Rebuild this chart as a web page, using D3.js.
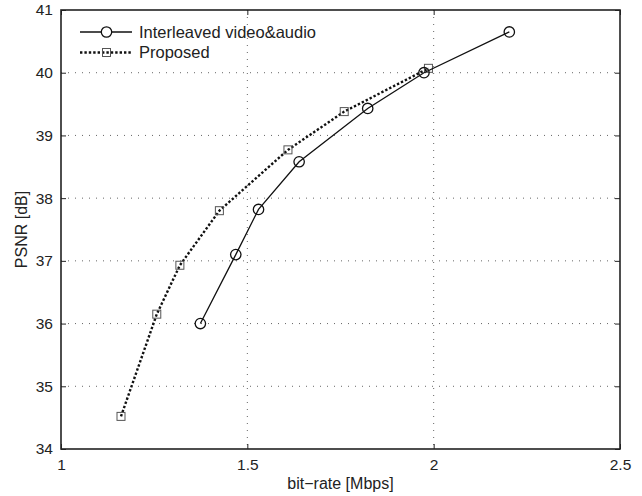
<!DOCTYPE html>
<html><head><meta charset="utf-8">
<script src="https://cdn.jsdelivr.net/npm/d3@7"></script>
<style>body{margin:0;background:#fff}text{font-family:"Liberation Sans",Arial,sans-serif;fill:#222}</style>
</head><body><svg id="c" width="642" height="496"></svg>
<script>
const interleavedX = [1.374, 1.469, 1.530, 1.639, 1.823, 1.974, 2.203];
const interleavedY = [36.00, 37.10, 37.82, 38.58, 39.43, 40.00, 40.65];
const proposedX = [1.161, 1.257, 1.319, 1.425, 1.609, 1.760, 1.986];
const proposedY = [34.52, 36.15, 36.93, 37.80, 38.77, 39.38, 40.07];
const xTicks = [1, 1.5, 2, 2.5];
const yTicks = [34, 35, 36, 37, 38, 39, 40, 41];
const seriesNames = ["Interleaved video&audio", "Proposed"];

const svg = d3.select("#c");
const L = 61, R = 620, T = 10, B = 449;
const x = d3.scaleLinear().domain([1, 2.5]).range([L, R]);
const y = d3.scaleLinear().domain([34, 41]).range([B, T]);

// grid
const g = svg.append("g");
g.selectAll("line.gx").data(xTicks.slice(1, -1)).join("line")
  .attr("x1", d => x(d)).attr("x2", d => x(d)).attr("y1", T).attr("y2", B)
  .attr("stroke", "#666").attr("stroke-width", 1).attr("stroke-dasharray", "1,6");
g.selectAll("line.gy").data(yTicks.slice(1, -1)).join("line")
  .attr("y1", d => y(d)).attr("y2", d => y(d)).attr("x1", L).attr("x2", R)
  .attr("stroke", "#666").attr("stroke-width", 1).attr("stroke-dasharray", "1,6");

// axes with inner ticks
const axB = svg.append("g").attr("transform", `translate(0,${B})`)
  .call(d3.axisBottom(x).tickValues(xTicks).tickFormat(d3.format("")).tickSizeInner(-5).tickSizeOuter(0).tickPadding(10));
const axL = svg.append("g").attr("transform", `translate(${L},0)`)
  .call(d3.axisLeft(y).tickValues(yTicks).tickFormat(d3.format("")).tickSizeInner(-5).tickSizeOuter(0).tickPadding(8));
const axT = svg.append("g").attr("transform", `translate(0,${T})`)
  .call(d3.axisTop(x).tickValues(xTicks).tickFormat("").tickSizeInner(-5).tickSizeOuter(0));
const axR = svg.append("g").attr("transform", `translate(${R},0)`)
  .call(d3.axisRight(y).tickValues(yTicks).tickFormat("").tickSizeInner(-5).tickSizeOuter(0));
[axB, axL, axT, axR].forEach(a => {
  a.select(".domain").remove();
  a.selectAll("line").attr("stroke", "#222").attr("stroke-width", 1);
  a.selectAll("text").attr("font-size", 15.5).attr("fill", "#222")
    .attr("font-family", '"Liberation Sans",Arial,sans-serif');
});
svg.append("rect").attr("x", L).attr("y", T).attr("width", R - L).attr("height", B - T)
  .attr("fill", "none").attr("stroke", "#222").attr("stroke-width", 1.6);

// series
const line = d3.line().x(d => x(d[0])).y(d => y(d[1]));
const inter = interleavedX.map((v, i) => [v, interleavedY[i]]);
const prop = proposedX.map((v, i) => [v, proposedY[i]]);

svg.append("path").datum(prop).attr("d", line).attr("fill", "none")
  .attr("stroke", "#111").attr("stroke-width", 2.4).attr("stroke-dasharray", "2.4,2");
svg.selectAll("rect.sq").data(prop).join("rect")
  .attr("x", d => x(d[0]) - 4).attr("y", d => y(d[1]) - 4).attr("width", 8).attr("height", 8)
  .attr("fill", "none").attr("stroke", "#555").attr("stroke-width", 1);

svg.append("path").datum(inter).attr("d", line).attr("fill", "none")
  .attr("stroke", "#111").attr("stroke-width", 1.3);
svg.selectAll("circle.ci").data(inter).join("circle")
  .attr("cx", d => x(d[0])).attr("cy", d => y(d[1])).attr("r", 5.2)
  .attr("fill", "none").attr("stroke", "#111").attr("stroke-width", 1.3);

// legend
const lg = svg.append("g");
lg.append("line").attr("x1", 80).attr("x2", 132).attr("y1", 32).attr("y2", 32)
  .attr("stroke", "#111").attr("stroke-width", 1.3);
lg.append("circle").attr("cx", 106.5).attr("cy", 32).attr("r", 5.2)
  .attr("fill", "#fff").attr("stroke", "#111").attr("stroke-width", 1.3);
lg.append("line").attr("x1", 80).attr("x2", 132).attr("y1", 52.5).attr("y2", 52.5)
  .attr("stroke", "#111").attr("stroke-width", 2.4).attr("stroke-dasharray", "2.4,2");
lg.append("rect").attr("x", 102.5).attr("y", 48.5).attr("width", 8).attr("height", 8)
  .attr("fill", "none").attr("stroke", "#555").attr("stroke-width", 1);
lg.selectAll("text").data(seriesNames).join("text")
  .attr("x", 139).attr("y", (d, i) => 32 + i * 20.5).attr("dy", "0.35em")
  .attr("font-size", 16.5).text(d => d);

// axis labels
svg.append("text").attr("x", (L + R) / 2).attr("y", 489).attr("text-anchor", "middle")
  .attr("font-size", 16).text("bit\u2212rate [Mbps]");
svg.append("text").attr("transform", `translate(27,${(T + B) / 2}) rotate(-90)`)
  .attr("text-anchor", "middle").attr("font-size", 16).text("PSNR [dB]");
</script></body></html>
